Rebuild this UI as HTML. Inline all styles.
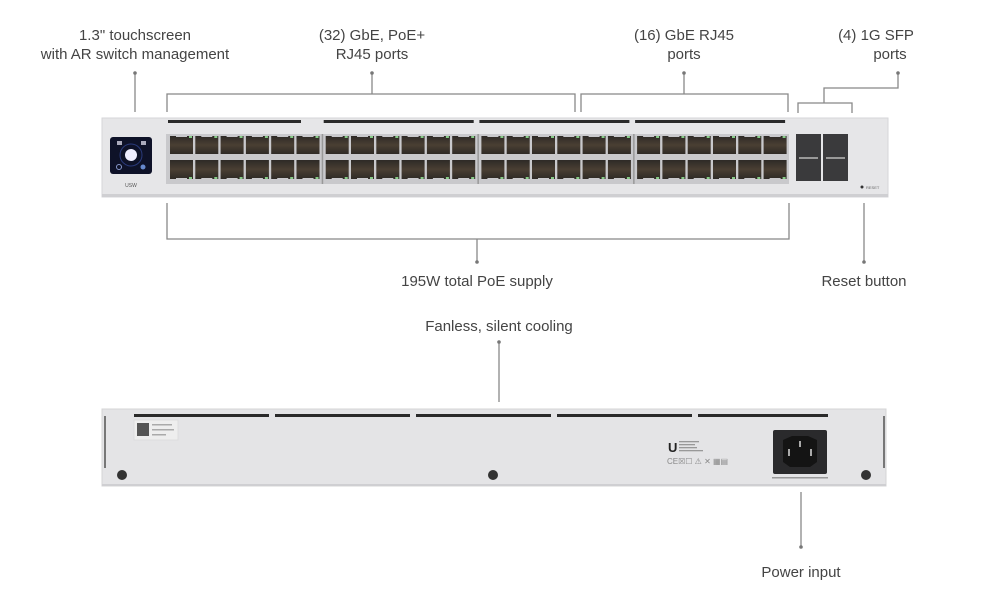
<!DOCTYPE html>
<html><head><meta charset="utf-8">
<style>
html,body{margin:0;padding:0;background:#fff;}
svg{display:block;}
text{font-family:"Liberation Sans",sans-serif;fill:#444;font-size:15px;}
</style></head>
<body>
<svg id="s" width="1000" height="595" viewBox="0 0 1000 595" xmlns="http://www.w3.org/2000/svg">
<defs>
<linearGradient id="pg" x1="0" y1="0" x2="0" y2="1"><stop offset="0" stop-color="#2e2a26"/><stop offset="0.5" stop-color="#4a3f33"/><stop offset="1" stop-color="#2e2a26"/></linearGradient>
</defs>
<text x="135" y="40" text-anchor="middle">1.3" touchscreen</text>
<text x="135" y="59" text-anchor="middle">with AR switch management</text>
<text x="372" y="40" text-anchor="middle">(32) GbE, PoE+</text>
<text x="372" y="59" text-anchor="middle">RJ45 ports</text>
<text x="684" y="40" text-anchor="middle">(16) GbE RJ45</text>
<text x="684" y="59" text-anchor="middle">ports</text>
<text x="876" y="40" text-anchor="middle">(4) 1G SFP</text>
<text x="890" y="59" text-anchor="middle">ports</text>
<text x="477" y="286" text-anchor="middle">195W total PoE supply</text>
<text x="864" y="286" text-anchor="middle">Reset button</text>
<text x="499" y="331" text-anchor="middle">Fanless, silent cooling</text>
<text x="801" y="577" text-anchor="middle">Power input</text>

<g stroke="#888" stroke-width="1.3" fill="none">
<path d="M135 73 V112"/>
<path d="M167 112 V94 H575 V112 M372 94 V73"/>
<path d="M581 112 V94 H788 V112 M684 94 V73"/>
<path d="M798 113 V103 H852 V113 M824 103 V88 H898 V73"/>
<path d="M167 203 V239 H789 V203 M477 239 V262"/>
<path d="M864 203 V262"/>
<path d="M499 342 V402"/>
<path d="M801 492 V547"/>
</g>
<g fill="#777">
<circle cx="135" cy="73" r="1.8"/><circle cx="372" cy="73" r="1.8"/><circle cx="684" cy="73" r="1.8"/><circle cx="898" cy="73" r="1.8"/>
<circle cx="477" cy="262" r="1.8"/><circle cx="864" cy="262" r="1.8"/><circle cx="499" cy="342" r="1.8"/><circle cx="801" cy="547" r="1.8"/>
</g>

<rect x="102" y="118" width="786" height="79" fill="#e6e6e8" stroke="#d6d6d8"/>
<rect x="102" y="194" width="786" height="3" fill="#cfcfd2"/>
<rect x="110" y="137" width="42" height="37" rx="3" fill="#0e1228"/>
<circle cx="131" cy="155" r="6" fill="#eef"/>
<circle cx="131" cy="155" r="11" fill="none" stroke="#2a3a7a" stroke-width="1"/>
<rect x="117" y="141" width="5" height="4" fill="#aab"/><rect x="141" y="141" width="5" height="4" fill="#aab"/>
<circle cx="119" cy="167" r="2.5" fill="none" stroke="#8899cc"/><circle cx="143" cy="167" r="2.5" fill="#6688cc"/>
<text x="131" y="187" text-anchor="middle" style="font-size:5px;fill:#555">USW</text>
<rect x="166" y="134" width="623" height="50" fill="#c9c9cc"/>
<g id="ports"></g>
<rect x="796" y="134" width="25" height="47" fill="#3a3a3c"/>
<rect x="823" y="134" width="25" height="47" fill="#3a3a3c"/>
<rect x="799" y="157" width="19" height="2" fill="#999"/><rect x="826" y="157" width="19" height="2" fill="#999"/>
<circle cx="862" cy="187" r="1.5" fill="#333"/>
<text x="866" y="189" style="font-size:4px;fill:#666">RESET</text>

<rect x="102" y="409" width="784" height="77" fill="#e4e4e6" stroke="#d4d4d6"/>
<rect x="102" y="484" width="784" height="2" fill="#cfcfd2"/>
<g fill="#2a2a2a">
<rect x="134" y="414" width="135" height="3"/><rect x="275" y="414" width="135" height="3"/><rect x="416" y="414" width="135" height="3"/><rect x="557" y="414" width="135" height="3"/><rect x="698" y="414" width="130" height="3"/>
</g>
<rect x="104" y="416" width="2" height="52" fill="#777"/>
<rect x="883" y="416" width="2" height="52" fill="#777"/>
<circle cx="122" cy="475" r="5" fill="#333"/><circle cx="493" cy="475" r="5" fill="#333"/><circle cx="866" cy="475" r="5" fill="#333"/>
<rect x="134" y="420" width="44" height="20" fill="#eee" stroke="#ddd"/>
<rect x="137" y="423" width="12" height="13" fill="#555"/>
<rect x="152" y="424" width="20" height="1.5" fill="#aaa"/><rect x="152" y="429" width="22" height="1.5" fill="#aaa"/><rect x="152" y="434" width="14" height="1.5" fill="#aaa"/>
<text x="668" y="452" style="font-size:13px;fill:#222;font-weight:bold">U</text>
<g fill="#999"><rect x="679" y="441" width="20" height="1.3"/><rect x="679" y="444" width="16" height="1.3"/><rect x="679" y="447" width="18" height="1.3"/><rect x="679" y="450" width="24" height="1.3"/></g>
<text x="667" y="464" style="font-size:8px;fill:#888">CE☒☐ ⚠ ✕ ▦▤</text>
<rect x="773" y="430" width="54" height="44" rx="2" fill="#2a2a2c"/>
<path d="M783 440 L792 436 H808 L817 440 V462 L810 467 H790 L783 462 Z" fill="#141414"/>
<rect x="788" y="449" width="2" height="7" fill="#aaa"/><rect x="810" y="449" width="2" height="7" fill="#aaa"/><rect x="799" y="441" width="2" height="6" fill="#aaa"/>
<rect x="772" y="477" width="56" height="1.5" fill="#999"/>
</svg>
<script>
var g=document.getElementById('ports'),h='';
for(var grp=0;grp<4;grp++){
 var gx=167+grp*155.7;
 h+='<rect x="'+(gx+1)+'" y="120" width="'+(grp==0?133:150)+'" height="3" fill="#2a2a2a"/>';
 for(var i=0;i<6;i++){
  var x=gx+3+i*25.3;
  h+='<rect x="'+x+'" y="136" width="23" height="18" fill="url(#pg)"/>';
  h+='<rect x="'+x+'" y="160" width="23" height="19" fill="url(#pg)"/>';
  h+='<rect x="'+(x+6)+'" y="134" width="11" height="3" fill="#c9c9cc"/>';
  h+='<rect x="'+(x+6)+'" y="178" width="11" height="3" fill="#c9c9cc"/>';
  h+='<rect x="'+(x+19)+'" y="136" width="3" height="2" fill="#8c8"/>';
  h+='<rect x="'+(x+19)+'" y="177" width="3" height="2" fill="#8c8"/>';
 }
 if(grp>0)h+='<rect x="'+(gx-1)+'" y="134" width="1.5" height="50" fill="#999"/>';
}
g.innerHTML=h;
</script>
</body></html>
